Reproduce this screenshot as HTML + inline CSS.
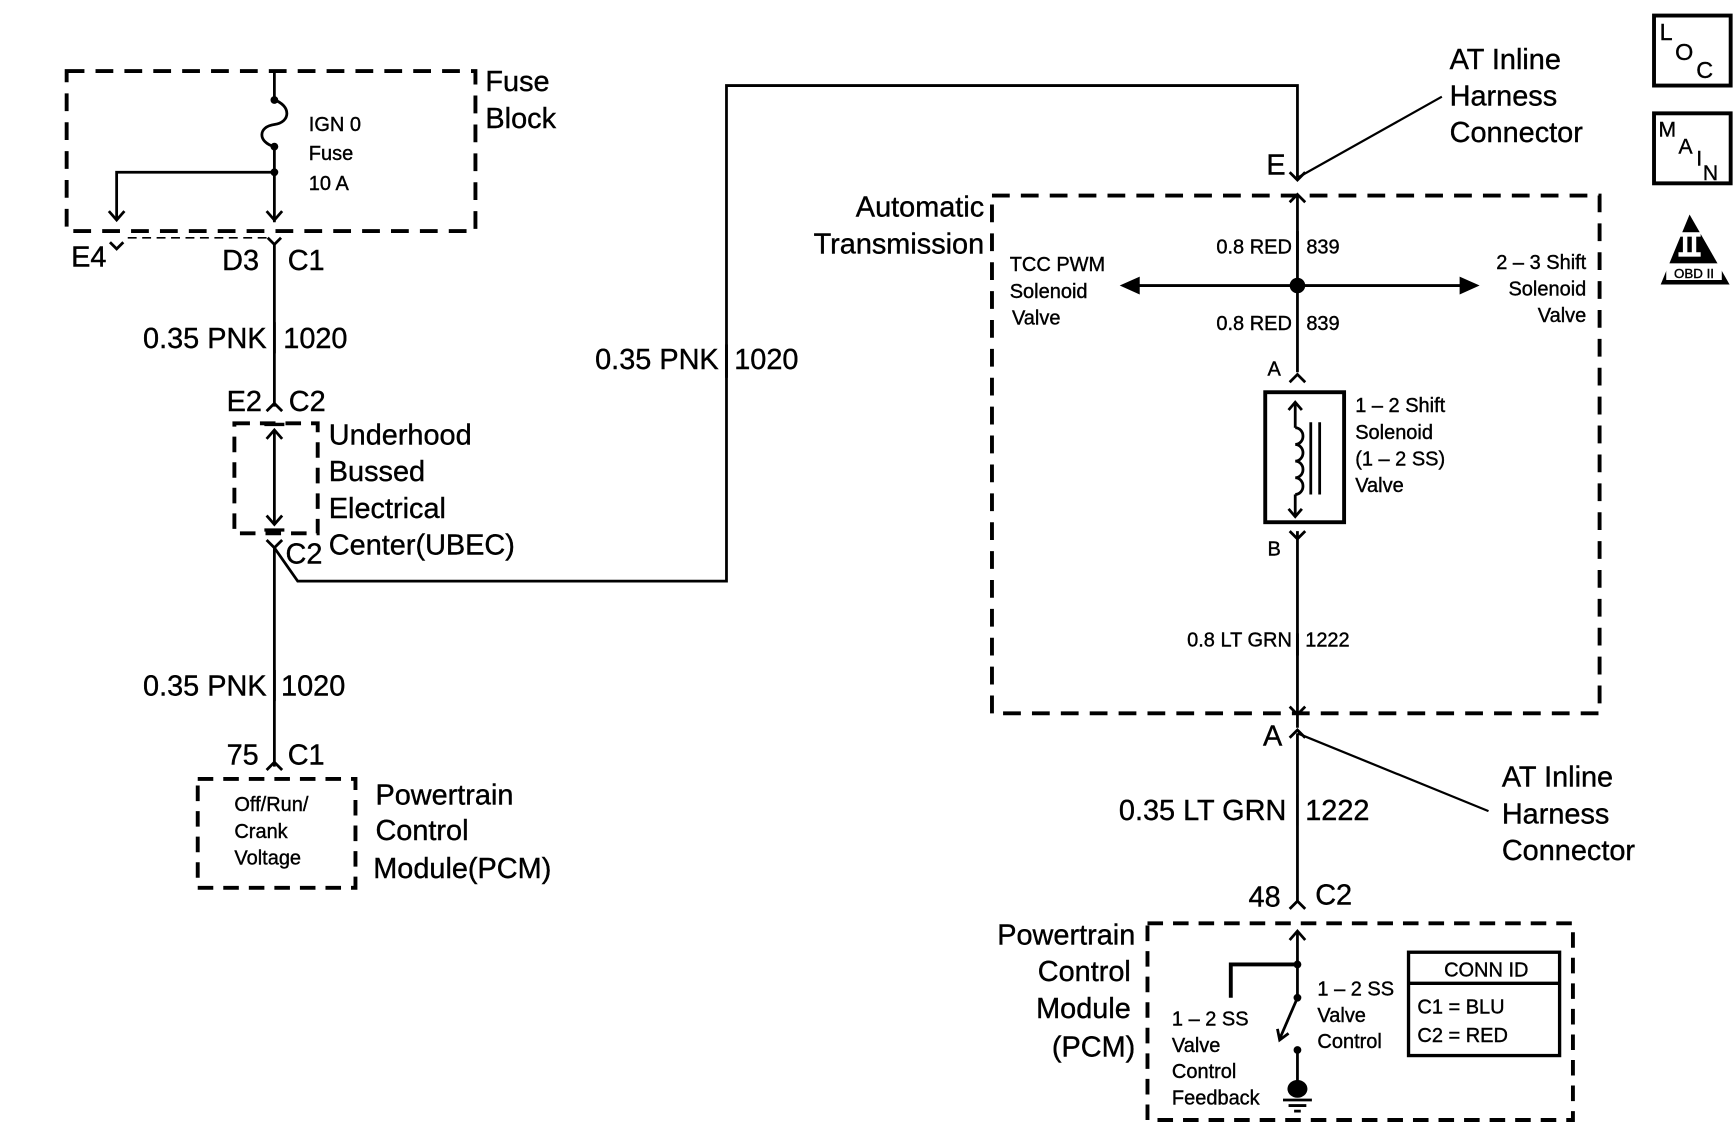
<!DOCTYPE html>
<html><head><meta charset="utf-8"><style>
html,body{margin:0;padding:0;background:#fff;}
svg{display:block;}
text{font-family:"Liberation Sans",sans-serif;fill:#000;stroke:#000;stroke-width:0.35px;}
.b{font-size:26px;}
.s{font-size:18px;}
</style></head><body>
<svg width="1734" height="1140" viewBox="0 0 1561 1026" preserveAspectRatio="none" xmlns="http://www.w3.org/2000/svg">
<g fill="none" stroke="#000" stroke-width="2.5">
<rect x="60" y="64" width="368" height="144" stroke-width="3.5" stroke-dasharray="16 10"/>
<line x1="247" y1="64" x2="247" y2="90"/>
<path d="M247 90 C262 95 262 110 247 112 C232 114 232 128 247 132"/>
<line x1="247" y1="132" x2="247" y2="200"/>
<polyline points="247,155 105,155 105,198"/>
<polyline points="240,190 247,198 254,190"/>
<polyline points="98,190 105,198 112,190"/>
<line x1="115" y1="214" x2="240" y2="214" stroke-dasharray="8 5" stroke-width="1.5"/>
<polyline points="99,218 105,224 111,218"/>
<polyline points="241,214 247,220 253,214"/>
<line x1="247" y1="220" x2="247" y2="366"/>
<polyline points="240,370 247,363 254,370"/>
<rect x="211" y="381" width="75" height="99" stroke-width="3.5" stroke-dasharray="14 9"/>
<line x1="238" y1="382" x2="256" y2="382" stroke-width="3"/>
<line x1="238" y1="477" x2="256" y2="477" stroke-width="3"/>
<line x1="247" y1="387" x2="247" y2="472"/>
<polyline points="240,395 247,387 254,395"/>
<polyline points="240,464 247,472 254,464"/>
<polyline points="240,486 247,493 254,486"/>
<line x1="247" y1="493" x2="247" y2="690"/>
<polyline points="247,493 268,523 654,523 654,77 1168,77 1168,160"/>
<line x1="654" y1="310" x2="654" y2="340"/>
<line x1="247" y1="290" x2="247" y2="318"/>
<line x1="247" y1="603" x2="247" y2="631"/>
<polyline points="240,693 247,686 254,693"/>
<rect x="178" y="701" width="142" height="98" stroke-width="3.5" stroke-dasharray="14 9"/>
<line x1="1168" y1="160" x2="1298" y2="87" stroke-width="2"/>
<polyline points="1161,155 1168,162 1175,155"/>
<polyline points="1161,182 1168,175 1175,182"/>
<rect x="893" y="176" width="547" height="466" stroke-width="3.5" stroke-dasharray="16 10"/>
<line x1="1168" y1="175" x2="1168" y2="335"/>
<line x1="1020" y1="257" x2="1320" y2="257"/>
<line x1="1168" y1="208" x2="1168" y2="234"/>
<polyline points="1161,344 1168,337 1175,344"/>
<rect x="1139" y="353" width="71" height="117" stroke-width="3.5"/>
<line x1="1166" y1="362" x2="1166" y2="385"/>
<polyline points="1160,369 1166,362 1172,369"/>
<path d="M1166 385 a7 7.5 0 0 1 0 15 a7 7.5 0 0 1 0 15 a7 7.5 0 0 1 0 15 a7 7.5 0 0 1 0 15"/>
<line x1="1166" y1="445" x2="1166" y2="465"/>
<polyline points="1160,458 1166,465 1172,458"/>
<line x1="1180" y1="380" x2="1180" y2="445"/>
<line x1="1188" y1="380" x2="1188" y2="445"/>
<polyline points="1161,478 1168,485 1175,478"/>
<line x1="1168" y1="478" x2="1168" y2="655"/>
<polyline points="1161,636 1168,643 1175,636"/>
<polyline points="1161,664 1168,657 1175,664"/>
<line x1="1168" y1="660" x2="1340" y2="730" stroke-width="2"/>
<line x1="1168" y1="660" x2="1168" y2="812"/>
<polyline points="1161,818 1168,811 1175,818"/>
<rect x="1033" y="831" width="383" height="177" stroke-width="3.5" stroke-dasharray="14 9"/>
<line x1="1168" y1="838" x2="1168" y2="898"/>
<polyline points="1161,846 1168,838 1175,846"/>
<polyline points="1108,898 1108,868 1168,868" stroke-width="3.5"/>
<line x1="1168" y1="898" x2="1152" y2="935"/>
<polyline points="1150,926 1152,936 1160,930"/>
<line x1="1168" y1="945" x2="1168" y2="975"/>
<line x1="1155" y1="990" x2="1181" y2="990"/>
<line x1="1160" y1="995" x2="1176" y2="995"/>
<line x1="1165" y1="1000" x2="1171" y2="1000"/>
<rect x="1268" y="857" width="136" height="93" stroke-width="3"/>
<line x1="1268" y1="885" x2="1404" y2="885" stroke-width="3"/>
<line x1="1168" y1="570" x2="1168" y2="590"/>
<rect x="1489" y="14" width="69" height="63" stroke-width="3.5"/>
<rect x="1489" y="102" width="69" height="63" stroke-width="3.5"/>
</g>
<g fill="#000">
<circle cx="247" cy="90" r="3.5"/><circle cx="247" cy="132" r="3.5"/><circle cx="247" cy="155" r="3.5"/>
<circle cx="1168" cy="257" r="7"/>
<polygon points="1008,257 1026,249 1026,265"/>
<polygon points="1332,257 1314,249 1314,265"/>
<circle cx="1168" cy="868" r="3.5"/><circle cx="1168" cy="898" r="3.5"/><circle cx="1168" cy="945" r="3.5"/>
<ellipse cx="1168" cy="980" rx="9" ry="8"/>
<polygon points="1521,193 1495,256 1557,256"/>
</g>
<rect x="1500" y="237" width="50" height="15" fill="#fff"/>
<rect x="1511" y="209" width="20" height="4" fill="#fff"/><rect x="1511" y="227" width="20" height="4" fill="#fff"/>
<rect x="1515" y="212" width="4" height="16" fill="#fff"/><rect x="1523" y="212" width="4" height="16" fill="#fff"/>
<text x="1525" y="250" font-size="12" text-anchor="middle">OBD II</text>
<text x="1494" y="36" font-size="21">L</text><text x="1508" y="54" font-size="21">O</text><text x="1527" y="70" font-size="21">C</text>
<text x="1493" y="123" font-size="19">M</text><text x="1511" y="138" font-size="19">A</text><text x="1527" y="149" font-size="19">I</text><text x="1533" y="162" font-size="19">N</text>

<text class="b" x="437" y="82">Fuse</text><text class="b" x="437" y="115">Block</text>
<text class="s" x="278" y="118">IGN 0</text><text class="s" x="278" y="144">Fuse</text><text class="s" x="278" y="171">10 A</text>
<text class="b" x="64" y="240">E4</text><text class="b" x="200" y="243">D3</text><text class="b" x="259" y="243">C1</text>
<text class="b" x="240" y="313" text-anchor="end">0.35 PNK</text><text class="b" x="255" y="313">1020</text>
<text class="b" x="204" y="370">E2</text><text class="b" x="260" y="370">C2</text>
<text class="b" x="296" y="400">Underhood</text><text class="b" x="296" y="433">Bussed</text><text class="b" x="296" y="466">Electrical</text><text class="b" x="296" y="499">Center(UBEC)</text>
<text class="b" x="257" y="507">C2</text>
<text class="b" x="647" y="332" text-anchor="end">0.35 PNK</text><text class="b" x="661" y="332">1020</text>
<text class="b" x="240" y="626" text-anchor="end">0.35 PNK</text><text class="b" x="253" y="626">1020</text>
<text class="b" x="204" y="688">75</text><text class="b" x="259" y="688">C1</text>
<text class="s" x="211" y="730">Off/Run/</text><text class="s" x="211" y="754">Crank</text><text class="s" x="211" y="778">Voltage</text>
<text class="b" x="338" y="724">Powertrain</text><text class="b" x="338" y="756">Control</text><text class="b" x="336" y="790">Module(PCM)</text>

<text class="b" x="1305" y="62">AT Inline</text><text class="b" x="1305" y="95">Harness</text><text class="b" x="1305" y="128">Connector</text>
<text class="b" x="1140" y="157">E</text>
<text class="b" x="886" y="195" text-anchor="end">Automatic</text><text class="b" x="886" y="228" text-anchor="end">Transmission</text>
<text class="s" x="1163" y="228" text-anchor="end">0.8 RED</text><text class="s" x="1176" y="228">839</text>
<text class="s" x="1163" y="297" text-anchor="end">0.8 RED</text><text class="s" x="1176" y="297">839</text>
<line x1="1168" y1="280" x2="1168" y2="300" stroke="#000" stroke-width="1"/>
<text class="s" x="909" y="244">TCC PWM</text><text class="s" x="909" y="268">Solenoid</text><text class="s" x="911" y="292">Valve</text>
<text class="s" x="1428" y="242" text-anchor="end">2 – 3 Shift</text><text class="s" x="1428" y="266" text-anchor="end">Solenoid</text><text class="s" x="1428" y="290" text-anchor="end">Valve</text>
<text class="s" x="1141" y="338">A</text><text class="s" x="1141" y="500">B</text>
<text class="s" x="1220" y="371">1 – 2 Shift</text><text class="s" x="1220" y="395">Solenoid</text><text class="s" x="1220" y="419">(1 – 2 SS)</text><text class="s" x="1220" y="443">Valve</text>
<text class="s" x="1163" y="582" text-anchor="end">0.8 LT GRN</text><text class="s" x="1175" y="582">1222</text>
<text class="b" x="1137" y="671">A</text>
<text class="b" x="1352" y="708">AT Inline</text><text class="b" x="1352" y="741">Harness</text><text class="b" x="1352" y="774">Connector</text>
<text class="b" x="1158" y="738" text-anchor="end">0.35 LT GRN</text><text class="b" x="1175" y="738">1222</text>
<line x1="1168" y1="715" x2="1168" y2="743" stroke="#000" stroke-width="2"/>
<text class="b" x="1124" y="816">48</text><text class="b" x="1184" y="814">C2</text>
<text class="b" x="1022" y="850" text-anchor="end">Powertrain</text><text class="b" x="1018" y="883" text-anchor="end">Control</text><text class="b" x="1018" y="916" text-anchor="end">Module</text><text class="b" x="1022" y="951" text-anchor="end">(PCM)</text>
<text class="s" x="1055" y="923">1 – 2 SS</text><text class="s" x="1055" y="947">Valve</text><text class="s" x="1055" y="970">Control</text><text class="s" x="1055" y="994">Feedback</text>
<text class="s" x="1186" y="896">1 – 2 SS</text><text class="s" x="1186" y="920">Valve</text><text class="s" x="1186" y="943">Control</text>
<text class="s" x="1338" y="879" text-anchor="middle">CONN ID</text>
<text class="s" x="1276" y="912">C1 = BLU</text><text class="s" x="1276" y="938">C2 = RED</text>
</svg>
</body></html>
